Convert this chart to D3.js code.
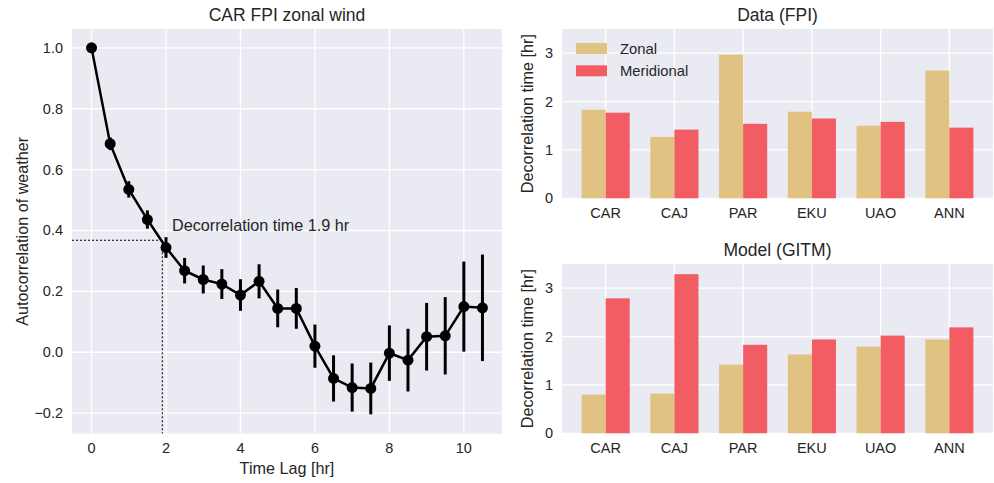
<!DOCTYPE html>
<html>
<head>
<meta charset="utf-8">
<script src="https://cdn.jsdelivr.net/npm/d3@7"></script>
<style>
  body { margin: 0; background: #fff; }
  svg { font-family: "Liberation Sans", Arial, sans-serif; }
</style>
</head>
<body>
<div id="chart"></div>
<script>
// autocorrelation of CAR FPI zonal wind
const lags = [0, 0.5, 1, 1.5, 2, 2.5, 3, 3.5, 4, 4.5, 5, 5.5, 6, 6.5, 7, 7.5, 8, 8.5, 9, 9.5, 10, 10.5];
const acf = [1.0, 0.685, 0.535, 0.436, 0.344, 0.268, 0.239, 0.224, 0.188, 0.233, 0.144, 0.144,
  0.02, -0.086, -0.116, -0.119, -0.003, -0.026, 0.051, 0.054, 0.15, 0.146];
const acfErr = [0, 0.021, 0.027, 0.03, 0.034, 0.042, 0.046, 0.049, 0.052, 0.056, 0.062, 0.067,
  0.071, 0.076, 0.079, 0.085, 0.091, 0.103, 0.111, 0.127, 0.148, 0.175];
const decorrTime = 1.9;
const efold = Math.exp(-1);

// decorrelation times per station
const stations = ["CAR", "CAJ", "PAR", "EKU", "UAO", "ANN"];
const dataZonal = [1.83, 1.27, 2.97, 1.79, 1.50, 2.64];
const dataMerid = [1.77, 1.42, 1.54, 1.65, 1.58, 1.46];
const modelZonal = [0.80, 0.82, 1.42, 1.63, 1.79, 1.94];
const modelMerid = [2.79, 3.29, 1.83, 1.94, 2.02, 2.19];

const leftTicks = [0, 2, 4, 6, 8, 10];
const acfTicks = [-0.2, 0, 0.2, 0.4, 0.6, 0.8, 1.0];
const barTicks = [0, 1, 2, 3];

const width = 994;
const height = 483;
const bg = "#eaeaf2";
const ink = "#262626";
const zonalColor = "#e0c382";
const meridColor = "#f25c63";

const svg = d3.select("#chart")
  .append("svg")
  .attr("width", width)
  .attr("height", height);

// ---------- left: autocorrelation ----------
const L = { x0: 72, x1: 502, y0: 29, y1: 433.5 };
const x = d3.scaleLinear().domain([-0.525, 11.025]).range([L.x0, L.x1]);
const y = d3.scaleLinear().domain([-0.267, 1.062]).range([L.y1, L.y0]);

const left = svg.append("g");
left.append("rect")
  .attr("x", L.x0).attr("y", L.y0)
  .attr("width", L.x1 - L.x0).attr("height", L.y1 - L.y0)
  .attr("fill", bg);

left.append("g")
  .attr("stroke", "#fff").attr("stroke-width", 1.3)
  .selectAll("line.gx").data(leftTicks).join("line")
  .attr("x1", (d) => x(d)).attr("x2", (d) => x(d))
  .attr("y1", L.y0).attr("y2", L.y1);
left.append("g")
  .attr("stroke", "#fff").attr("stroke-width", 1.3)
  .selectAll("line.gy").data(acfTicks).join("line")
  .attr("x1", L.x0).attr("x2", L.x1)
  .attr("y1", (d) => y(d)).attr("y2", (d) => y(d));

// tick labels
left.append("g")
  .selectAll("text").data(leftTicks).join("text")
  .attr("x", (d) => x(d)).attr("y", 453)
  .attr("text-anchor", "middle").attr("font-size", 14.5).attr("fill", ink)
  .text((d) => d);
left.append("g")
  .selectAll("text").data(acfTicks).join("text")
  .attr("x", 63).attr("y", (d) => y(d) + 5)
  .attr("text-anchor", "end").attr("font-size", 14.5).attr("fill", ink)
  .text((d) => d3.format(".1f")(d).replace("-", "\u2212"));

// dotted guides at 1/e
left.append("line")
  .attr("x1", L.x0).attr("x2", x(decorrTime))
  .attr("y1", y(efold)).attr("y2", y(efold))
  .attr("stroke", "#000").attr("stroke-width", 1).attr("stroke-dasharray", "2,2");
left.append("line")
  .attr("x1", x(decorrTime)).attr("x2", x(decorrTime))
  .attr("y1", y(efold)).attr("y2", L.y1)
  .attr("stroke", "#000").attr("stroke-width", 1).attr("stroke-dasharray", "2,2");

const pts = lags.map((d, i) => ({ lag: d, v: acf[i], e: acfErr[i] }));

// error bars
left.append("g")
  .attr("stroke", "#000").attr("stroke-width", 3)
  .selectAll("line").data(pts.filter((d) => d.e > 0)).join("line")
  .attr("x1", (d) => x(d.lag)).attr("x2", (d) => x(d.lag))
  .attr("y1", (d) => y(d.v - d.e)).attr("y2", (d) => y(d.v + d.e));

left.append("path")
  .datum(pts)
  .attr("fill", "none").attr("stroke", "#000").attr("stroke-width", 2.5)
  .attr("d", d3.line().x((d) => x(d.lag)).y((d) => y(d.v)));

left.append("g")
  .selectAll("circle").data(pts).join("circle")
  .attr("cx", (d) => x(d.lag)).attr("cy", (d) => y(d.v))
  .attr("r", 5.5).attr("fill", "#000");

left.append("text")
  .attr("x", 172).attr("y", 231)
  .attr("font-size", 16.2).attr("fill", ink)
  .text("Decorrelation time " + decorrTime + " hr");

left.append("text")
  .attr("x", (L.x0 + L.x1) / 2).attr("y", 21)
  .attr("text-anchor", "middle").attr("font-size", 17.5).attr("fill", ink)
  .text("CAR FPI zonal wind");
left.append("text")
  .attr("x", (L.x0 + L.x1) / 2).attr("y", 474)
  .attr("text-anchor", "middle").attr("font-size", 16.2).attr("fill", ink)
  .text("Time Lag [hr]");
left.append("text")
  .attr("transform", `translate(28,${(L.y0 + L.y1) / 2}) rotate(-90)`)
  .attr("text-anchor", "middle").attr("font-size", 16.2).attr("fill", ink)
  .text("Autocorrelation of weather");

// ---------- right: bar panels ----------
function barPanel(box, title, zonal, merid, withLegend) {
  const bx = d3.scaleLinear().domain([-0.635, 5.635]).range([box.x0, box.x1]);
  const by = d3.scaleLinear().domain([0, 3.5]).range([box.y1, box.y0]);
  const g = svg.append("g");

  g.append("rect")
    .attr("x", box.x0).attr("y", box.y0)
    .attr("width", box.x1 - box.x0).attr("height", box.y1 - box.y0)
    .attr("fill", bg);
  g.append("g")
    .attr("stroke", "#fff").attr("stroke-width", 1.3)
    .selectAll("line").data(stations).join("line")
    .attr("x1", (d, i) => bx(i)).attr("x2", (d, i) => bx(i))
    .attr("y1", box.y0).attr("y2", box.y1);
  g.append("g")
    .attr("stroke", "#fff").attr("stroke-width", 1.3)
    .selectAll("line").data(barTicks).join("line")
    .attr("x1", box.x0).attr("x2", box.x1)
    .attr("y1", (d) => by(d)).attr("y2", (d) => by(d));

  g.append("g")
    .selectAll("rect").data(zonal).join("rect")
    .attr("x", (d, i) => bx(i - 0.35)).attr("width", bx(0.35) - bx(0))
    .attr("y", (d) => by(d)).attr("height", (d) => by(0) - by(d))
    .attr("fill", zonalColor);
  g.append("g")
    .selectAll("rect").data(merid).join("rect")
    .attr("x", (d, i) => bx(i)).attr("width", bx(0.35) - bx(0))
    .attr("y", (d) => by(d)).attr("height", (d) => by(0) - by(d))
    .attr("fill", meridColor);

  g.append("g")
    .selectAll("text").data(stations).join("text")
    .attr("x", (d, i) => bx(i)).attr("y", box.y1 + 20)
    .attr("text-anchor", "middle").attr("font-size", 14.5).attr("fill", ink)
    .text((d) => d);
  g.append("g")
    .selectAll("text").data(barTicks).join("text")
    .attr("x", 553).attr("y", (d) => by(d) + 5)
    .attr("text-anchor", "end").attr("font-size", 14.5).attr("fill", ink)
    .text((d) => d);

  g.append("text")
    .attr("x", (box.x0 + box.x1) / 2).attr("y", box.y0 - 8)
    .attr("text-anchor", "middle").attr("font-size", 17.5).attr("fill", ink)
    .text(title);
  g.append("text")
    .attr("transform", `translate(533,${(box.y0 + box.y1) / 2}) rotate(-90)`)
    .attr("text-anchor", "middle").attr("font-size", 16.2).attr("fill", ink)
    .text("Decorrelation time [hr]");

  if (withLegend) {
    const items = [{ label: "Zonal", color: zonalColor }, { label: "Meridional", color: meridColor }];
    const lg = g.append("g")
      .selectAll("g").data(items).join("g")
      .attr("transform", (d, i) => `translate(576,${43 + i * 22.3})`);
    lg.append("rect").attr("width", 31).attr("height", 11).attr("fill", (d) => d.color);
    lg.append("text").attr("x", 44).attr("y", 11)
      .attr("font-size", 14.8).attr("fill", ink)
      .text((d) => d.label);
  }
}

barPanel({ x0: 562, x1: 993, y0: 29, y1: 198.3 }, "Data (FPI)", dataZonal, dataMerid, true);
barPanel({ x0: 562, x1: 993, y0: 264, y1: 433.3 }, "Model (GITM)", modelZonal, modelMerid, false);
</script>
</body>
</html>
